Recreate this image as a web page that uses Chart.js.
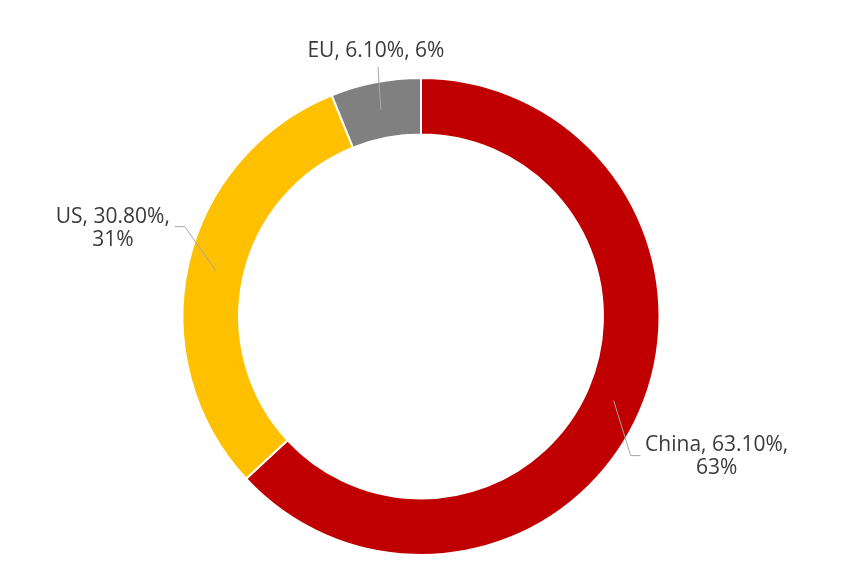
<!DOCTYPE html>
<html>
<head>
<meta charset="utf-8">
<script src="https://cdn.jsdelivr.net/npm/chart.js@4/dist/chart.umd.min.js"></script>
<style>
  html, body { margin: 0; padding: 0; background: #ffffff; }
  #wrap { width: 844px; height: 574px; position: relative; }
</style>
</head>
<body>
<div id="wrap"><canvas id="c" width="844" height="574"></canvas></div>
<script>
// ---- data ----
const categories = ["China", "US", "EU"];
const shares = [63.1, 30.8, 6.1];           // percent
const colors = ["#C00000", "#FFC000", "#808080"];

// label layout (offsets relative to each slice's centroid): elbow, line end, text centre/baseline
const labelLayout = [
  { elbow: [17, 55], end: [27, 55], text: [103, 50], wrap: true },    // China
  { elbow: [-31, -44], end: [-41, -44], text: [-103, -48], wrap: true }, // US
  { elbow: [-3, -43], end: [-3, -43], text: [-5, -53], wrap: false }   // EU
];

const labelPlugin = {
  id: 'leaderLabels',
  afterDatasetsDraw(chart) {
    const ctx = chart.ctx;
    const meta = chart.getDatasetMeta(0);
    ctx.save();
    meta.data.forEach((arc, i) => {
      const p = arc.getCenterPoint();
      const L = labelLayout[i];
      ctx.strokeStyle = '#A6A6A6';
      ctx.lineWidth = 1;
      ctx.beginPath();
      ctx.moveTo(p.x, p.y);
      ctx.lineTo(p.x + L.elbow[0], p.y + L.elbow[1]);
      ctx.lineTo(p.x + L.end[0], p.y + L.end[1]);
      ctx.stroke();

      const v = shares[i];
      const first = categories[i] + ', ' + v.toFixed(2) + '%,';
      const second = Math.round(v) + '%';
      const lines = L.wrap ? [first, second] : [first + ' ' + second];
      ctx.fillStyle = '#3A3A3A';
      ctx.font = '21px "Open Sans"';
      ctx.textAlign = 'center';
      ctx.textBaseline = 'alphabetic';
      lines.forEach((t, k) => {
        ctx.fillText(t, p.x + L.text[0], p.y + L.text[1] + k * 23);
      });
    });
    ctx.restore();
  }
};

new Chart(document.getElementById('c'), {
  type: 'doughnut',
  data: {
    labels: categories,
    datasets: [{
      data: shares,
      backgroundColor: colors,
      borderColor: '#ffffff',
      borderWidth: 2
    }]
  },
  options: {
    responsive: false,
    animation: false,
    cutout: '76.3%',
    layout: { padding: { top: 77, bottom: 18, left: 0, right: 2 } },
    plugins: {
      legend: { display: false },
      tooltip: { enabled: false }
    }
  },
  plugins: [labelPlugin]
});
</script>
</body>
</html>
